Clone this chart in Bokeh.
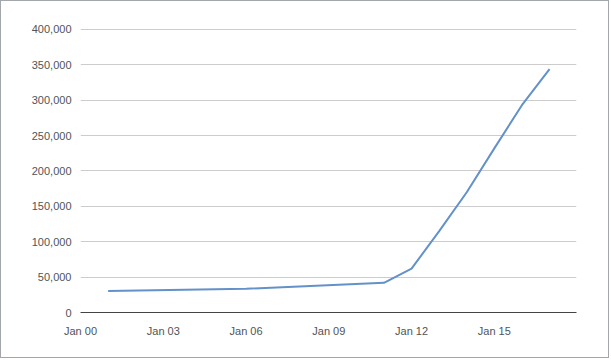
from datetime import datetime
from bokeh.plotting import figure
from bokeh.models import Range1d, FixedTicker, NumeralTickFormatter, DatetimeTickFormatter, ColumnDataSource
from bokeh.embed import file_html
from bokeh.resources import INLINE

# data
years = [2001, 2006, 2011, 2012, 2013, 2014, 2015, 2016, 2017]
values = [30500, 33500, 42000, 62000, 115000, 170000, 232000, 293000, 344000]
x_tick_years = [2000, 2003, 2006, 2009, 2012, 2015]
y_ticks = [0, 50000, 100000, 150000, 200000, 250000, 300000, 350000, 400000]

dates = [datetime(y, 1, 1) for y in years]
src = ColumnDataSource(dict(x=dates, y=values))

def ms(d):
    return (d - datetime(1970, 1, 1)).total_seconds() * 1000.0

p = figure(width=609, height=358, output_backend="svg", toolbar_location=None,
           x_axis_type="datetime",
           x_range=Range1d(datetime(2000, 1, 1), datetime(2017, 12, 24)),
           y_range=Range1d(0, 402800),
           min_border_left=79, min_border_right=34, min_border_top=26, min_border_bottom=47)
p.styles = {"border": "1px solid #a3a7ab"}
p.outline_line_color = None
p.background_fill_color = "white"
p.border_fill_color = "white"

p.line("x", "y", source=src, line_color="#6391c9", line_width=2)

font = "Liberation Sans"
p.xaxis.ticker = FixedTicker(ticks=[ms(datetime(y, 1, 1)) for y in x_tick_years])
p.xaxis.formatter = DatetimeTickFormatter(years="%b %y", months="%b %y", days="%b %y")
p.xaxis.axis_line_color = "#444444"
p.xaxis.axis_line_width = 1
p.xaxis.major_tick_line_color = None
p.xaxis.minor_tick_line_color = None
p.xaxis.major_tick_out = 0
p.xaxis.minor_tick_out = 0
p.xaxis.major_label_standoff = 12
p.xaxis.major_label_text_font = font
p.xaxis.major_label_text_font_size = "11px"
p.xaxis.major_label_text_color = "#505458"

p.yaxis.ticker = FixedTicker(ticks=y_ticks)
p.yaxis.formatter = NumeralTickFormatter(format="0,0")
p.yaxis.axis_line_color = None
p.yaxis.major_tick_line_color = None
p.yaxis.minor_tick_line_color = None
p.yaxis.major_tick_out = 0
p.yaxis.minor_tick_out = 0
p.yaxis.major_label_standoff = 9
p.yaxis.major_label_text_font = font
p.yaxis.major_label_text_font_size = "11px"
p.yaxis.major_label_text_color = "#505458"

p.xgrid.grid_line_color = None
p.ygrid.grid_line_color = "#cccccc"
p.ygrid.grid_line_width = 1

open("out.html", "w").write(file_html(p, INLINE))
